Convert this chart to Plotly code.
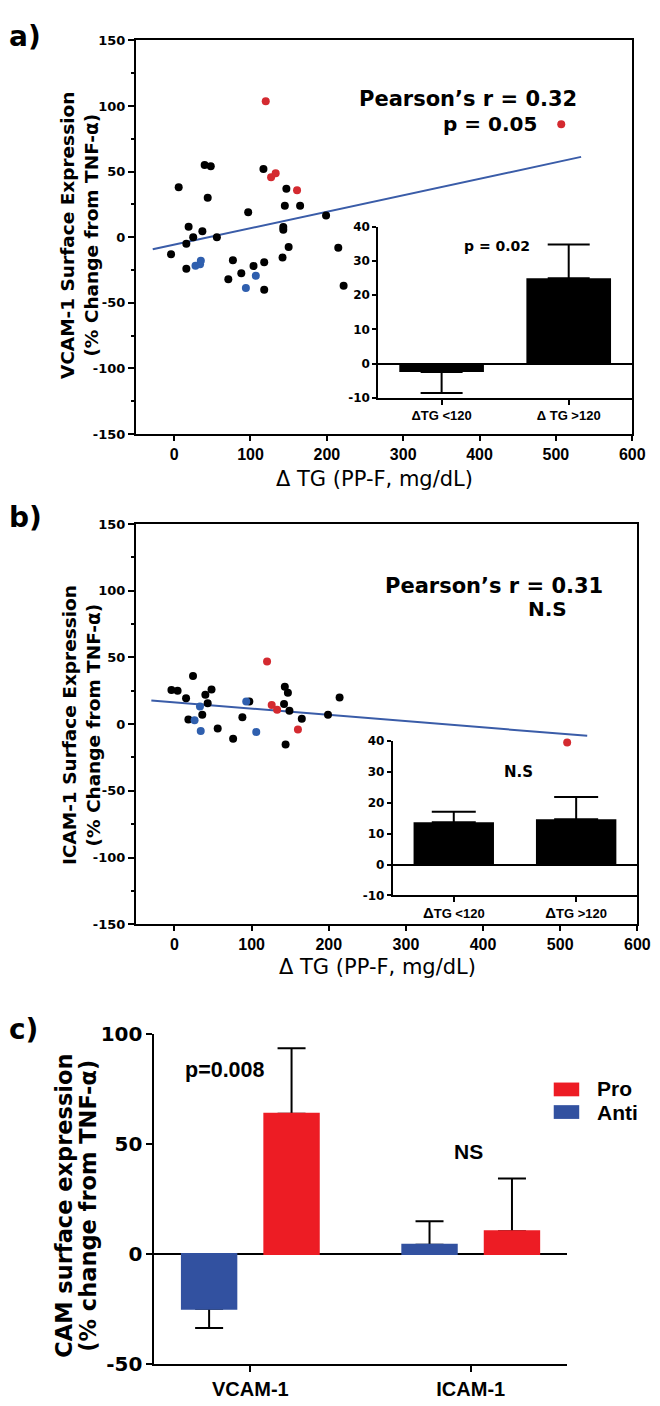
import plotly.graph_objects as go

# ---------------- data ----------------
# Panel a: VCAM-1 (% change from TNF-alpha) vs delta TG
a_black_x = [6, 40, 48, 44, 117, 147, 145, 165, 97, 199, 19, 37, 25, 16, 56, 143, 143, 150, 215, -4,
             16, 77, 71, 88, 104, 118, 118, 142, 222]
a_black_y = [38, 55, 54, 30, 52, 37, 24, 24, 19, 16.5, 8, 4.5, 0, -5, 0, 7.7, 5.7, -7.5, -8, -13,
             -24, -17.5, -32, -27.5, -22, -19, -40, -15.5, -37]
a_red_x = [120, 507, 127, 133, 161]
a_red_y = [103.6, 86, 45.7, 48.7, 35.7]
a_blue_x = [28, 34, 35, 107, 94]
a_blue_y = [-21.7, -20.5, -18, -29.4, -38.7]
a_fit_x = [-28, 533]
a_fit_y = [-9.2, 61.2]

# Panel b: ICAM-1 (% change from TNF-alpha) vs delta TG
b_black_x = [24, -4, 4, 48, 40, 15, 143, 147, 214, 43, 97, 142, 149, 165, 199, 18, 36, 56, 88, 76, 144]
b_black_y = [36, 25.5, 25, 26, 22, 19.4, 28, 23.6, 20, 15.7, 17, 15, 10, 4, 7, 3.4, 7, -3.2, 5.2, -11, -15.2]
b_red_x = [120, 126, 133, 160, 509]
b_red_y = [47, 14.4, 10.8, -4, -13.8]
b_blue_x = [93, 33, 26, 34, 106]
b_blue_y = [17, 13.3, 2.9, -5.2, -5.9]
b_fit_x = [-30, 535]
b_fit_y = [17.7, -8.8]

# tick labels (hyphen minus, as in the original)
main_y_ticks = [-150, -100, -50, 0, 50, 100, 150]
main_y_labels = ["-150", "-100", "-50", "0", "50", "100", "150"]
main_x_ticks = [0, 100, 200, 300, 400, 500, 600]
main_x_labels = ["0", "100", "200", "300", "400", "500", "600"]
inset_y_ticks = [-10, 0, 10, 20, 30, 40]
inset_y_labels = ["-10", "0", "10", "20", "30", "40"]

# Insets: delta TG groups
inset_cats = ["TG<120", "TG>120"]
inset_a_labels = ["ΔTG &lt;120", "Δ TG &gt;120"]
inset_b_labels = ["<span style='font-size:15px'>Δ</span>TG &lt;120",
                  "<span style='font-size:15px'>Δ</span>TG &gt;120"]
inset_a_vals = [-2.5, 24.9]
inset_a_err_up = [0, 9.9]
inset_a_err_down = [6.1, 0]
inset_b_vals = [13.7, 14.6]
inset_b_err_up = [3.4, 7.2]
inset_b_err_down = [0, 0]

# Panel c: CAM surface expression, Pro vs Anti
c_cats = ["VCAM-1", "ICAM-1"]
c_anti = [-24.9, 4.2]
c_anti_err_up = [0, 10.7]
c_anti_err_down = [8.8, 0]
c_pro = [63.8, 10.4]
c_pro_err_up = [29.8, 23.9]
c_pro_err_down = [0, 0]
c_y_ticks = [-50, 0, 50, 100]
c_y_labels = ["-50", "0", "50", "100"]

# ---------------- styling helpers ----------------
W, H = 660, 1406


def X(p):
    return p / W


def Y(p):
    return 1 - p / H


DJ = "DejaVu Sans"
LS = "Liberation Sans"
BLACK = "#000000"
PT_RED = "#d42a30"
PT_BLUE = "#2f5fae"
LINE_BLUE = "#3a5ca8"
BAR_RED = "#ed1c24"
BAR_BLUE = "#3251a0"

fig = go.Figure()


def scatter_panel(xs, ys, color, xa, ya):
    fig.add_trace(go.Scatter(x=xs, y=ys, mode="markers", xaxis=xa, yaxis=ya,
                             marker=dict(color=color, size=8, line=dict(width=0)),
                             showlegend=False))


# Panel a
fig.add_trace(go.Scatter(x=a_fit_x, y=a_fit_y, mode="lines", xaxis="x", yaxis="y",
                         line=dict(color=LINE_BLUE, width=2), showlegend=False))
scatter_panel(a_black_x, a_black_y, BLACK, "x", "y")
scatter_panel(a_red_x, a_red_y, PT_RED, "x", "y")
scatter_panel(a_blue_x, a_blue_y, PT_BLUE, "x", "y")

fig.add_trace(go.Bar(x=inset_cats, y=inset_a_vals, width=0.666, xaxis="x2", yaxis="y2",
                     marker=dict(color=BLACK, line=dict(width=0)),
                     error_y=dict(type="data", symmetric=False, array=inset_a_err_up,
                                  arrayminus=inset_a_err_down, color=BLACK, thickness=2, width=21),
                     showlegend=False))

# Panel b
fig.add_trace(go.Scatter(x=b_fit_x, y=b_fit_y, mode="lines", xaxis="x3", yaxis="y3",
                         line=dict(color=LINE_BLUE, width=2), showlegend=False))
scatter_panel(b_black_x, b_black_y, BLACK, "x3", "y3")
scatter_panel(b_red_x, b_red_y, PT_RED, "x3", "y3")
scatter_panel(b_blue_x, b_blue_y, PT_BLUE, "x3", "y3")

fig.add_trace(go.Bar(x=inset_cats, y=inset_b_vals, width=0.657, xaxis="x4", yaxis="y4",
                     marker=dict(color=BLACK, line=dict(width=0)),
                     error_y=dict(type="data", symmetric=False, array=inset_b_err_up,
                                  arrayminus=inset_b_err_down, color=BLACK, thickness=2, width=22),
                     showlegend=False))

# Panel c (error-bar traces first, then same-colour covers to hide the base caps)
fig.add_trace(go.Bar(x=c_cats, y=c_anti, name="Anti", offsetgroup="anti", xaxis="x5", yaxis="y5",
                     marker=dict(color=BAR_BLUE, line=dict(width=0)),
                     error_y=dict(type="data", symmetric=False, array=c_anti_err_up,
                                  arrayminus=c_anti_err_down, color=BLACK, thickness=2, width=14),
                     showlegend=False))
fig.add_trace(go.Bar(x=c_cats, y=c_pro, name="Pro", offsetgroup="pro", xaxis="x5", yaxis="y5",
                     marker=dict(color=BAR_RED, line=dict(width=0)),
                     error_y=dict(type="data", symmetric=False, array=c_pro_err_up,
                                  arrayminus=c_pro_err_down, color=BLACK, thickness=2, width=14),
                     showlegend=False))
fig.add_trace(go.Bar(x=c_cats, y=c_anti, name="Anti", offsetgroup="anti", xaxis="x5", yaxis="y5",
                     marker=dict(color=BAR_BLUE, line=dict(width=2, color=BAR_BLUE)),
                     showlegend=False, hoverinfo="skip"))
fig.add_trace(go.Bar(x=c_cats, y=c_pro, name="Pro", offsetgroup="pro", xaxis="x5", yaxis="y5",
                     marker=dict(color=BAR_RED, line=dict(width=2, color=BAR_RED)),
                     showlegend=False, hoverinfo="skip"))

# ---------------- axes ----------------
common = dict(showgrid=False, zeroline=False, showline=True, linecolor=BLACK, linewidth=2,
              ticks="outside", tickcolor=BLACK, tickwidth=2)


def main_axes(xdom, ydom, xa, ya):
    xax = dict(common, domain=xdom, anchor=ya, range=[-50, 600], tickvals=main_x_ticks,
               ticktext=main_x_labels, ticklen=5, mirror=True,
               tickfont=dict(family=LS, size=16, color=BLACK, weight="bold"))
    yax = dict(common, domain=ydom, anchor=xa, range=[-150, 150], tickvals=main_y_ticks,
               ticktext=main_y_labels, ticklen=6, mirror=True,
               minor=dict(tick0=0, dtick=25, ticks="outside", ticklen=3, tickwidth=1.5, tickcolor=BLACK),
               tickfont=dict(family=DJ, size=13, color=BLACK, weight="bold"))
    return xax, yax


def inset_axes(xdom, ydom, xa, ya, labels):
    xax = dict(common, domain=xdom, anchor=ya, type="category", range=[-0.5, 1.5], ticklen=5,
               tickvals=inset_cats, ticktext=labels,
               tickfont=dict(family=LS, size=13, color=BLACK, weight="bold"))
    yax = dict(common, domain=ydom, anchor=xa, range=[-10, 40], tickvals=inset_y_ticks,
               ticktext=inset_y_labels, ticklen=4, tickwidth=1.5,
               linewidth=1.5, zeroline=True, zerolinecolor=BLACK, zerolinewidth=2,
               tickfont=dict(family=DJ, size=12, color=BLACK, weight="bold"))
    return xax, yax


xa1, ya1 = main_axes([X(130.5), X(636.8)], [Y(421.3), Y(20.7)], "x", "y")
xa2, ya2 = inset_axes([X(377.5), X(636.8)], [Y(384.3), Y(210.3)], "x2", "y2", inset_a_labels)
xa3, ya3 = main_axes([X(130.5), X(642)], [Y(920), Y(512.7)], "x3", "y3")
xa4, ya4 = inset_axes([X(392.3), X(642)], [Y(890.7), Y(733.3)], "x4", "y4", inset_b_labels)
xa5 = dict(common, domain=[X(149.4), X(570.3)], anchor="y5", type="category", range=[-0.435, 1.437],
           ticklen=6, tickfont=dict(family=LS, size=20, color=BLACK, weight="bold"))
ya5 = dict(common, domain=[Y(1367.3), Y(1031.7)], anchor="x5", range=[-50, 100],
           tickvals=c_y_ticks, ticktext=c_y_labels, ticklen=6,
           zeroline=True, zerolinecolor=BLACK, zerolinewidth=2,
           tickfont=dict(family=DJ, size=20, color=BLACK, weight="bold"))

# ---------------- text ----------------
ann = []


def text(t, x, y, size, family=DJ, xanchor="center", weight="bold", angle=0):
    ann.append(dict(text=t, x=X(x), y=Y(y), xref="paper", yref="paper", showarrow=False,
                    xanchor=xanchor, yanchor="middle", textangle=angle, borderpad=0,
                    font=dict(family=family, size=size, color=BLACK, weight=weight)))


text("a)", 0, 17, 28, xanchor="left")
text("b)", 0, 506, 28, xanchor="left")
text("c)", 0, 1027, 28, xanchor="left")

text("Pearson’s r = 0.32", 581, 80.5, 21, xanchor="right")
text("p = 0.05", 541, 105.5, 20, xanchor="right")
text("p = 0.02", 499, 230, 14)
text("VCAM-1 Surface Expression", 60, 219, 18.5, angle=-90)
text("(% Change from TNF-α)", 85, 219, 18.5, angle=-90)
text("Δ TG (PP-F, mg/dL)", 373.5, 467, 21, weight="normal")

text("Pearson’s r = 0.31", 608, 575.5, 21, xanchor="right")
text("N.S", 550, 599.5, 20)
text("N.S", 520.6, 765, 15)
text("ICAM-1 Surface Expression", 62, 717.5, 18.5, angle=-90)
text("(% Change from TNF-α)", 87, 717.5, 18.5, angle=-90)
text("Δ TG (PP-F, mg/dL)", 376.7, 963, 21, weight="normal")

text("p=0.008", 221.4, 1068, 21.5, family=LS)
text("NS", 470, 1151, 21, family=LS)
text("CAM surface expression", 57.5, 1206, 22.5, angle=-90)
text("(% change from TNF-α)", 82, 1206, 22.5, angle=-90)

# manual legend for panel c
text("Pro", 600, 1087.5, 21, family=LS, xanchor="left")
text("Anti", 600, 1111.5, 21, family=LS, xanchor="left")
shapes = [
    dict(type="rect", xref="paper", yref="paper", x0=X(556.7), x1=X(582.7), y0=Y(1095), y1=Y(1081),
         fillcolor=BAR_RED, line=dict(width=0)),
    dict(type="rect", xref="paper", yref="paper", x0=X(556.7), x1=X(582.7), y0=Y(1118), y1=Y(1104),
         fillcolor=BAR_BLUE, line=dict(width=0)),
]

fig.update_layout(
    width=W, height=H, margin=dict(l=0, r=0, t=0, b=0, pad=0),
    paper_bgcolor="white", plot_bgcolor="rgba(0,0,0,0)",
    showlegend=False, barmode="group", bargap=0.252, bargroupgap=0.34,
    font=dict(family=DJ, color=BLACK),
    xaxis=xa1, yaxis=ya1, xaxis2=xa2, yaxis2=ya2, xaxis3=xa3, yaxis3=ya3,
    xaxis4=xa4, yaxis4=ya4, xaxis5=xa5, yaxis5=ya5,
    annotations=ann, shapes=shapes,
)

fig.write_html("out.html")
